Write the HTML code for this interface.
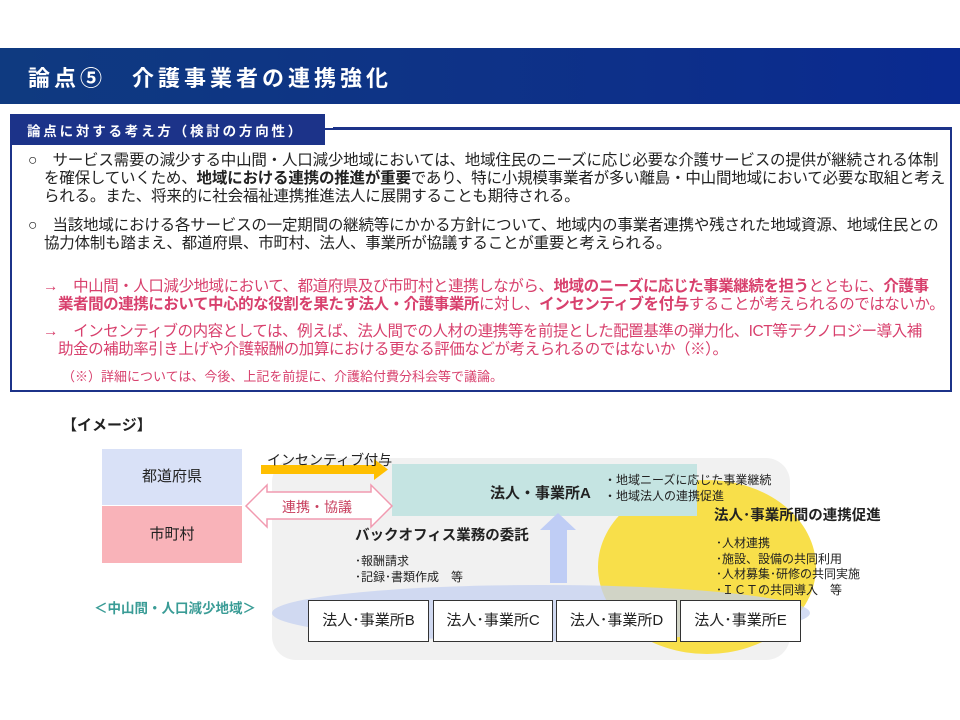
<!DOCTYPE html>
<html><head><meta charset="utf-8"><style>
*{margin:0;padding:0;box-sizing:border-box}
body{width:960px;height:720px;background:#fff;position:relative;overflow:hidden;font-family:"Liberation Sans","Noto Sans CJK JP",sans-serif;color:#222}
.a{position:absolute;white-space:nowrap}
.hdr{left:0;top:48px;width:960px;height:56px;background:linear-gradient(90deg,#0f3a80,#0d2f8a 70%,#0a2a90)}
.t{font-size:15.5px;line-height:17px;letter-spacing:-0.2px}
.t.r{letter-spacing:-0.45px}
.r{color:#d8406d}
b{font-weight:bold}
.box{border:1.5px solid #333;background:#fff;font-size:15px;text-align:center;line-height:40px;height:42px}
</style></head><body>
<div class="a hdr"></div>
<div class="a" style="left:28px;top:61px;color:#fff;font-size:22px;font-weight:bold;letter-spacing:4px">論点⑤　介護事業者の連携強化</div>

<div class="a" style="left:10px;top:128px;width:942px;height:264px;border:2px solid #1c3389"></div>
<div class="a" style="left:10px;top:114px;width:315px;height:31px;background:#1c3389"></div>
<div class="a" style="left:27px;top:120px;color:#fff;font-size:13.5px;font-weight:bold;letter-spacing:2.8px">論点に対する考え方（検討の方向性）</div>
<div class="a" style="left:333px;top:127px;width:619px;height:3px;background:#1c3389"></div>

<div class="a t" style="left:28px;top:152px">○　サービス需要の減少する中山間・人口減少地域においては、地域住民のニーズに応じ必要な介護サービスの提供が継続される体制</div>
<div class="a t" style="left:44px;top:170px">を確保していくため、<b>地域における連携の推進が重要</b>であり、特に小規模事業者が多い離島・中山間地域において必要な取組と考え</div>
<div class="a t" style="left:44px;top:188px">られる。また、将来的に社会福祉連携推進法人に展開することも期待される。</div>
<div class="a t" style="left:28px;top:217px">○　当該地域における各サービスの一定期間の継続等にかかる方針について、地域内の事業者連携や残された地域資源、地域住民との</div>
<div class="a t" style="left:44px;top:235px">協力体制も踏まえ、都道府県、市町村、法人、事業所が協議することが重要と考えられる。</div>
<div class="a t r" style="left:43px;top:278px">→　中山間・人口減少地域において、都道府県及び市町村と連携しながら、<b>地域のニーズに応じた事業継続を担う</b>とともに、<b>介護事</b></div>
<div class="a t r" style="left:58px;top:296px"><b>業者間の連携において中心的な役割を果たす法人・介護事業所</b>に対し、<b>インセンティブを付与</b>することが考えられるのではないか。</div>
<div class="a t r" style="left:43px;top:323px">→　インセンティブの内容としては、例えば、法人間での人材の連携等を前提とした配置基準の弾力化、ICT等テクノロジー導入補</div>
<div class="a t r" style="left:58px;top:341px">助金の補助率引き上げや介護報酬の加算における更なる評価などが考えられるのではないか（※）。</div>
<div class="a r" style="left:62px;top:366px;font-size:13px">（※）詳細については、今後、上記を前提に、介護給付費分科会等で議論。</div>

<div class="a" style="left:62px;top:414px;font-size:15px;font-weight:bold">【イメージ】</div>

<div class="a" style="left:272px;top:458px;width:518px;height:202px;background:#f1f1f1;border-radius:24px"></div>
<div class="a" style="left:598px;top:480px;width:218px;height:174px;background:#f8df4a;border-radius:50%"></div>
<div class="a" style="left:272px;top:585px;width:538px;height:56px;background:rgba(196,208,240,0.75);border-radius:50%"></div>
<div class="a" style="left:392px;top:464px;width:305px;height:52px;background:#c5e4e2"></div>

<div class="a" style="left:102px;top:449px;width:140px;height:56px;background:#d9e1f7;text-align:center;line-height:56px;font-size:15px">都道府県</div>
<div class="a" style="left:102px;top:506px;width:140px;height:57px;background:#f9b3b9;text-align:center;line-height:57px;font-size:15px">市町村</div>

<svg class="a" style="left:0;top:0" width="960" height="720">
<polygon points="261,465 374,465 374,459 388,469.5 374,480 374,474 261,474" fill="#ffbf00"/>
<polygon points="246,506 267,485 267,492 371,492 371,485 392,506 371,527 371,519 267,519 267,527" fill="#fff" stroke="#f19ab0" stroke-width="1.5"/>
<polygon points="550,583 550,530 540,530 558,513 576,530 567,530 567,583" fill="#bfcdf5"/>
</svg>
<div class="a" style="left:267px;top:450px;font-size:14px">インセンティブ付与</div>
<div class="a" style="left:282px;top:497px;font-size:14px;color:#c8405f">連携・協議</div>

<div class="a" style="left:490px;top:482px;font-size:15px;font-weight:bold">法人・事業所A</div>
<div class="a" style="left:604px;top:472px;font-size:12px;line-height:16px">・地域ニーズに応じた事業継続<br>・地域法人の連携促進</div>
<div class="a" style="left:714px;top:504px;font-size:14.5px;font-weight:bold">法人･事業所間の連携促進</div>
<div class="a" style="left:716px;top:536px;font-size:12px;line-height:15.5px">･人材連携<br>･施設、設備の共同利用<br>･人材募集･研修の共同実施<br>･ＩＣＴの共同導入　等</div>

<div class="a" style="left:355px;top:524px;font-size:14.5px;font-weight:bold">バックオフィス業務の委託</div>
<div class="a" style="left:355px;top:553px;font-size:12px;line-height:16px">･報酬請求<br>･記録･書類作成　等</div>

<div class="a" style="left:94px;top:597px;font-size:13.5px;font-weight:bold;color:#3a9c96">＜中山間・人口減少地域＞</div>

<div class="a box" style="left:308px;top:600px;width:121px">法人･事業所B</div>
<div class="a box" style="left:433px;top:600px;width:120px">法人･事業所C</div>
<div class="a box" style="left:556px;top:600px;width:121px">法人･事業所D</div>
<div class="a box" style="left:680px;top:600px;width:121px">法人･事業所E</div>
</body></html>
